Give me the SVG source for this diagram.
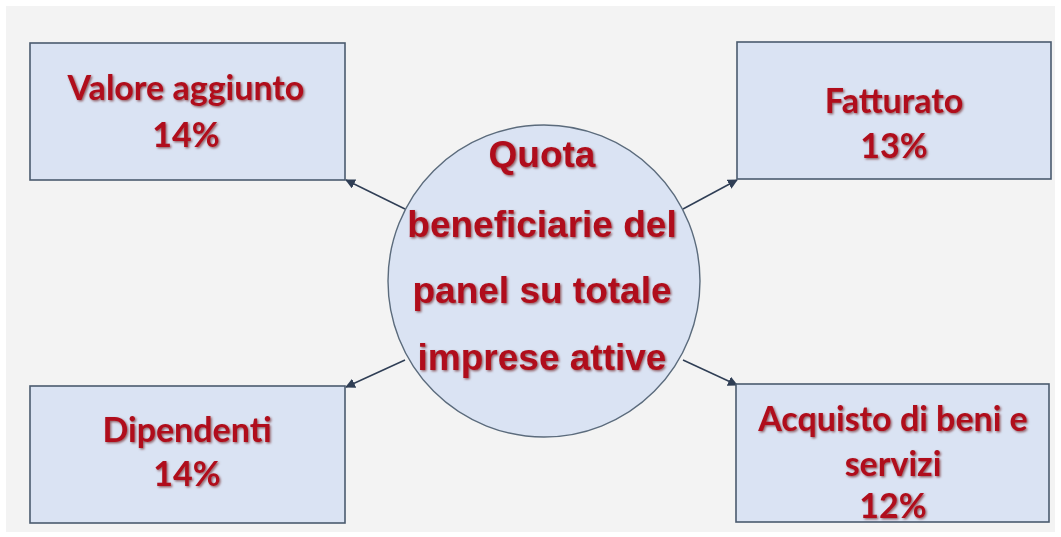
<svg xmlns="http://www.w3.org/2000/svg" width="1061" height="537" viewBox="0 0 1061 537">
<defs>
<style>
.box{fill:#dae3f3;stroke:#4a5a6e;stroke-width:1.6}
.circ{fill:#dae3f3;stroke:#5b6b7c;stroke-width:1.4}
.bt{font-family:Lato,"Open Sans",sans-serif;font-weight:700;font-size:34px;fill:#b0101a;text-anchor:middle;filter:url(#sh)}
.ct{font-family:"Liberation Sans",Arial,sans-serif;font-weight:700;font-size:37px;fill:#b0101a;text-anchor:middle;filter:url(#sh)}
.con{stroke:#2f3e55;stroke-width:1.5;fill:none;marker-end:url(#ah)}
</style>
<filter id="sh" x="-10%" y="-20%" width="130%" height="150%">
<feDropShadow dx="1.3" dy="1.3" stdDeviation="0.9" flood-color="#5a0000" flood-opacity="0.6"/>
</filter>
<marker id="ah" viewBox="0 0 10 10" refX="9" refY="5" markerWidth="10" markerHeight="10" markerUnits="userSpaceOnUse" orient="auto">
<path d="M0,0 L10,5 L0,10 z" fill="#2f3e55"/>
</marker>
</defs>
<rect x="0" y="0" width="1061" height="537" fill="#ffffff"/>
<rect x="6" y="6" width="1049" height="526" fill="#f3f3f3"/>
<g id="connectors">
<line class="con" x1="405" y1="209" x2="346" y2="180"/>
<line class="con" x1="683" y1="209" x2="737" y2="180"/>
<line class="con" x1="405" y1="360" x2="346" y2="387"/>
<line class="con" x1="683" y1="360" x2="737" y2="385"/>
</g>
<g id="valore">
<rect class="box" x="30" y="43" width="315" height="137"/>
<text class="bt" x="186" y="100">Valore aggiunto</text>
<text class="bt" x="186" y="147">14%</text>
</g>
<g id="fatturato">
<rect class="box" x="737" y="42" width="314" height="137"/>
<text class="bt" x="894" y="113">Fatturato</text>
<text class="bt" x="894" y="158">13%</text>
</g>
<g id="dipendenti">
<rect class="box" x="30" y="386" width="315" height="137"/>
<text class="bt" x="187" y="442">Dipendenti</text>
<text class="bt" x="187" y="486">14%</text>
</g>
<g id="acquisto">
<rect class="box" x="736" y="384" width="313" height="138"/>
<text class="bt" x="893" y="431">Acquisto di beni e</text>
<text class="bt" x="893" y="476">servizi</text>
<text class="bt" x="893" y="518">12%</text>
</g>
<g id="centro">
<circle class="circ" cx="544" cy="281" r="156"/>
<text class="ct" x="542" y="167">Quota</text>
<text class="ct" x="542" y="237">beneficiarie del</text>
<text class="ct" x="542" y="303">panel su totale</text>
<text class="ct" x="542" y="370">imprese attive</text>
</g>
</svg>
